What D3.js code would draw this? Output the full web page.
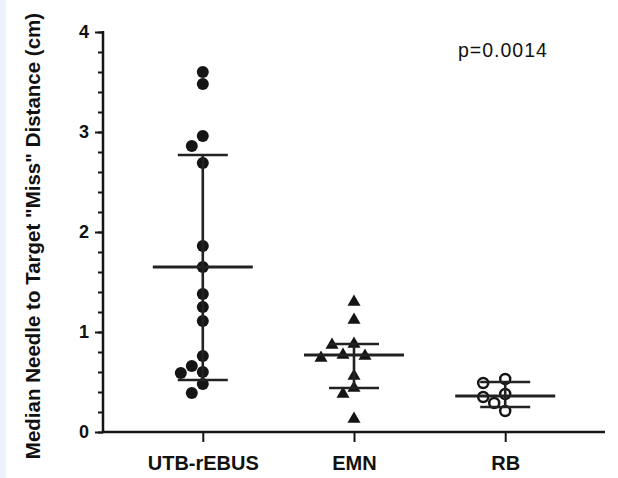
<!DOCTYPE html>
<html>
<head>
<meta charset="utf-8">
<script src="https://cdn.jsdelivr.net/npm/d3@7/dist/d3.min.js"></script>
<style>
  html, body { margin: 0; padding: 0; background: #ffffff; }
  svg { display: block; }
  text { font-family: "Liberation Sans", Arial, Helvetica, sans-serif; fill: #111; }
</style>
</head>
<body>
<svg id="chart" width="618" height="478"></svg>
<script>
// Groups on the x axis
const groups = ["UTB-rEBUS", "EMN", "RB"];

// Median needle-to-target miss distance (cm), one value per case
const utbValues = [3.60, 3.48, 2.96, 2.86, 2.69, 1.86, 1.65, 1.38, 1.25, 1.11, 0.76, 0.66, 0.60, 0.59, 0.48, 0.39];
const emnValues = [1.30, 1.12, 0.88, 0.87, 0.74, 0.77, 0.76, 0.56, 0.44, 0.38, 0.13];
const rbValues  = [0.53, 0.49, 0.38, 0.35, 0.29, 0.21];

// Median and interquartile range per group
const medians = [1.65, 0.77, 0.36];
const lowerQuartiles = [0.52, 0.44, 0.25];
const upperQuartiles = [2.77, 0.88, 0.50];

// Axis ticks
const majorTicks = [0, 1, 2, 3, 4];
const minorTicks = d3.range(0, 4.0001, 0.2);

const pLabel = "p=0.0014";
const yTitle = "Median Needle to Target \"Miss\" Distance (cm)";

const seriesValues = [utbValues, emnValues, rbValues];
const markerKinds = ["dot", "triangle", "ring"];

const svg = d3.select("#chart");
const ink = "#151515";

// light strip along the left edge
svg.append("rect").attr("x", 0).attr("y", 0).attr("width", 6).attr("height", 478).attr("fill", "#eef2fa");

const x = d3.scalePoint().domain(groups).range([103, 605]).padding(0.66);
const y = d3.scaleLinear().domain([0, 4]).range([432, 32]);

// y axis: minor ticks first, then major ticks with labels
const yMinor = svg.append("g").attr("transform", "translate(103,0)")
  .call(d3.axisLeft(y).tickValues(minorTicks).tickSize(5).tickFormat(""));
yMinor.select(".domain").remove();
yMinor.selectAll(".tick line").attr("stroke", ink).attr("stroke-width", 2);

const yAxis = svg.append("g").attr("transform", "translate(103,0)")
  .call(d3.axisLeft(y).tickValues(majorTicks).tickSize(8).tickPadding(6).tickFormat(d3.format("d")));
yAxis.select(".domain").attr("stroke", ink).attr("stroke-width", 2.5).attr("d", "M0,432.5V31");
yAxis.selectAll(".tick line").attr("stroke", ink).attr("stroke-width", 2);
yAxis.selectAll(".tick text")
  .style("font-size", "18px").style("font-weight", "bold").attr("fill", ink)
  .style("font-family", "'Liberation Sans', Arial, sans-serif");

// x axis
const xAxis = svg.append("g").attr("transform", "translate(0,432)")
  .call(d3.axisBottom(x).tickSize(10).tickPadding(14));
xAxis.select(".domain").attr("stroke", ink).attr("stroke-width", 2.5).attr("d", "M102,0H605");
xAxis.selectAll(".tick line").attr("stroke", ink).attr("stroke-width", 2);
xAxis.selectAll(".tick text")
  .style("font-size", "20px").style("font-weight", "bold").attr("fill", ink)
  .style("font-family", "'Liberation Sans', Arial, sans-serif");

// y axis title
svg.append("text")
  .attr("transform", "translate(40,236) rotate(-90)")
  .attr("text-anchor", "middle")
  .style("font-size", "20.5px").style("font-weight", "bold")
  .text(yTitle);

// p value
svg.append("text")
  .attr("x", 458).attr("y", 57)
  .style("font-size", "19.5px").style("letter-spacing", "1px").attr("fill", "#2a2a2a")
  .text(pLabel);

// Spread points sideways so that markers with close values do not overlap
function dodge(values, step, minDist) {
  const order = values.map((v, i) => i).sort((a, b) => values[b] - values[a]);
  const placed = [];
  const offsets = new Array(values.length).fill(0);
  const candidates = [0];
  for (let k = 1; k <= 6; k++) candidates.push(-k * step, k * step);
  order.forEach(i => {
    const py = y(values[i]);
    for (const dx of candidates) {
      const ok = placed.every(p => Math.hypot(p.dx - dx, p.py - py) >= minDist);
      if (ok) { offsets[i] = dx; placed.push({ dx, py }); break; }
    }
  });
  return offsets;
}

const triangle = d3.symbol().type(d3.symbolTriangle).size(74);

seriesValues.forEach((vals, gi) => {
  const cx = x(groups[gi]);
  const offs = dodge(vals, 11, 12);
  const g = svg.append("g");
  const kind = markerKinds[gi];
  vals.forEach((v, i) => {
    const px = cx + offs[i], py = y(v);
    if (kind === "dot") {
      g.append("circle").attr("cx", px).attr("cy", py).attr("r", 6).attr("fill", ink);
    } else if (kind === "triangle") {
      g.append("path").attr("d", triangle).attr("transform", `translate(${px},${py})`).attr("fill", ink);
    } else {
      g.append("circle").attr("cx", px).attr("cy", py).attr("r", 5)
        .attr("fill", "#fff").attr("stroke", ink).attr("stroke-width", 2.5);
    }
  });
});

// median line and interquartile error bar per group
const bars = svg.append("g").attr("stroke", "#222").attr("stroke-linecap", "butt");
groups.forEach((gname, gi) => {
  const cx = x(gname);
  bars.append("line").attr("x1", cx).attr("x2", cx)
    .attr("y1", y(lowerQuartiles[gi])).attr("y2", y(upperQuartiles[gi])).attr("stroke-width", 2.6);
  bars.append("line").attr("x1", cx - 50).attr("x2", cx + 50)
    .attr("y1", y(medians[gi])).attr("y2", y(medians[gi])).attr("stroke-width", 2.8);
  [lowerQuartiles[gi], upperQuartiles[gi]].forEach(q => {
    bars.append("line").attr("x1", cx - 25).attr("x2", cx + 25)
      .attr("y1", y(q)).attr("y2", y(q)).attr("stroke-width", 2.6);
  });
});
</script>
</body>
</html>
